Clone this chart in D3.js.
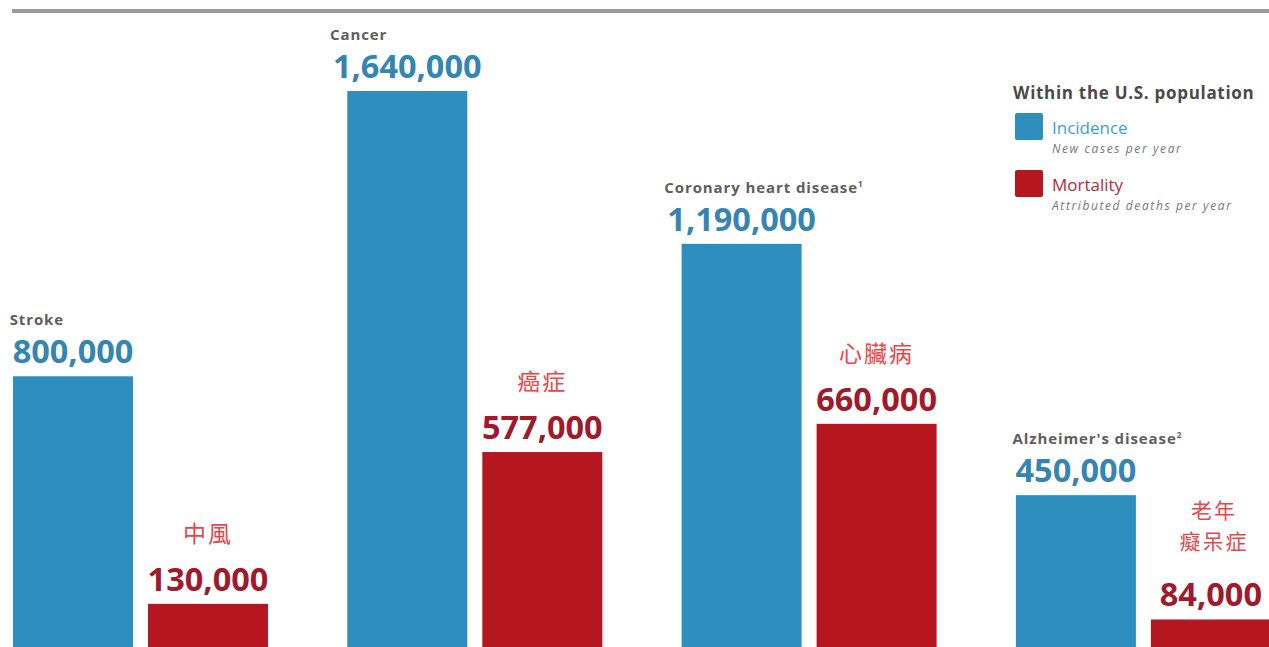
<!DOCTYPE html>
<html>
<head>
<meta charset="utf-8">
<script src="https://cdn.jsdelivr.net/npm/d3@7"></script>
<style>
  html, body { margin: 0; padding: 0; background: #fff; }
  svg { display: block; }
</style>
</head>
<body>
<svg id="chart" width="1269" height="647"></svg>
<script>
// Disease categories (English headings, superscript footnote marks, Chinese names)
const categories = ["Stroke", "Cancer", "Coronary heart disease", "Alzheimer's disease"];
const footnotes = ["", "", "1", "2"];
const chineseNames = [["中風"], ["癌症"], ["心臟病"], ["老年", "癡呆症"]];

// Series values per category
const incidence = [800000, 1640000, 1190000, 450000];
const mortality = [130000, 577000, 660000, 84000];

// Legend text
const seriesNames = ["Incidence", "Mortality"];
const seriesNotes = ["New cases per year", "Attributed deaths per year"];
const legendTitle = "Within the U.S. population";

const W = 1269, H = 647;
const blue = "#2e8fbe", red = "#b5161f";
const blueText = "#3585b2", redText = "#a01a2c", cnRed = "#e8474a";

const svg = d3.select("#chart");

const rows = categories.map((c, i) => ({
  cat: c, note: footnotes[i], cn: chineseNames[i],
  vals: [{ s: seriesNames[0], v: incidence[i] }, { s: seriesNames[1], v: mortality[i] }]
}));

// Scales
const x0 = d3.scaleBand().domain(categories).range([13, 13 + 4 * 334.3]).paddingInner(0).paddingOuter(0);
const x1 = d3.scaleBand().domain(seriesNames).range([0, 255]).paddingInner(0.111).paddingOuter(0);
const y = d3.scaleLinear().domain([0, 1640000]).range([648, 91]);
const color = d3.scaleOrdinal().domain(seriesNames).range([blue, red]);

// Top rule
svg.append("line")
  .attr("x1", 12).attr("x2", W).attr("y1", 11).attr("y2", 11)
  .attr("stroke", "#9a9a9a").attr("stroke-width", 4);

const fmt = d3.format(",");

const groups = svg.selectAll("g.grp").data(rows).join("g")
  .attr("class", "grp")
  .attr("transform", d => `translate(${x0(d.cat)},0)`);

// Bars
groups.selectAll("rect").data(d => d.vals).join("rect")
  .attr("x", d => x1(d.s))
  .attr("y", d => y(d.v))
  .attr("width", x1.bandwidth())
  .attr("height", d => y(0) - y(d.v))
  .attr("fill", d => color(d.s));

// Value labels above bars
groups.selectAll("text.val").data(d => d.vals).join("text")
  .attr("class", "val")
  .attr("x", d => x1(d.s) + x1.bandwidth() / 2)
  .attr("y", d => y(d.v) - 13)
  .attr("text-anchor", "middle")
  .attr("font-family", "'Open Sans', sans-serif")
  .attr("font-weight", 700)
  .attr("font-size", 32.5)
  .attr("fill", d => d.s === seriesNames[0] ? blueText : redText)
  .text(d => fmt(d.v));

// Category headings, aligned to the left edge of the incidence value label
groups.each(function (d) {
  const g = d3.select(this);
  const valNode = g.select("text.val").node();
  const w = valNode.getComputedTextLength();
  const cx = x1(seriesNames[0]) + x1.bandwidth() / 2;
  const t = g.append("text")
    .attr("x", cx - w / 2 - 3)
    .attr("y", y(d.vals[0].v) - 51)
    .attr("font-family", "'Open Sans', sans-serif")
    .attr("font-weight", 700)
    .attr("font-size", 15)
    .attr("letter-spacing", 0.9)
    .attr("fill", "#5e5e5e")
    .text(d.cat);
  if (d.note) {
    t.append("tspan").attr("dy", -6).attr("font-size", 8).text(d.note);
  }
});

// Chinese names above the mortality labels
groups.each(function (d) {
  const g = d3.select(this);
  const cx = x1(seriesNames[1]) + x1.bandwidth() / 2;
  const base = y(d.vals[1].v) - 13 - 49;
  const lines = d.cn;
  lines.forEach((line, j) => {
    g.append("text")
      .attr("x", cx + (lines.length > 1 ? 3 : 0))
      .attr("y", base - (lines.length - 1 - j) * 31 - (lines.length > 1 ? 8 : 0))
      .attr("text-anchor", "middle")
      .attr("font-family", "'Noto Sans CJK TC', 'Noto Sans CJK SC', sans-serif")
      .attr("font-weight", 400)
      .attr("font-size", lines.length > 1 ? 21 : 23)
      .attr("letter-spacing", 2)
      .attr("fill", cnRed)
      .text(line);
  });
});

// Legend
const lg = svg.append("g").attr("transform", "translate(1015,0)");
lg.append("text")
  .attr("x", -2).attr("y", 99)
  .attr("font-family", "'Open Sans', sans-serif")
  .attr("font-weight", 700).attr("font-size", 17)
  .attr("letter-spacing", 0.7)
  .attr("fill", "#4a4a4a")
  .text(legendTitle);

const items = lg.selectAll("g.item").data(seriesNames).join("g")
  .attr("class", "item")
  .attr("transform", (d, i) => `translate(0,${113 + i * 57})`);
items.append("rect")
  .attr("width", 28).attr("height", 27).attr("rx", 2)
  .attr("fill", d => color(d));
items.append("text")
  .attr("x", 37).attr("y", 21)
  .attr("font-family", "'Open Sans', sans-serif")
  .attr("font-size", 17)
  .attr("fill", (d, i) => i === 0 ? "#3f9fd0" : "#c0283a")
  .text(d => d);
items.append("text")
  .attr("x", 37).attr("y", 40)
  .attr("font-family", "'Open Sans', sans-serif")
  .attr("font-style", "italic")
  .attr("font-size", 12)
  .attr("letter-spacing", 1.6)
  .attr("fill", "#777")
  .text((d, i) => seriesNotes[i]);
</script>
</body>
</html>
